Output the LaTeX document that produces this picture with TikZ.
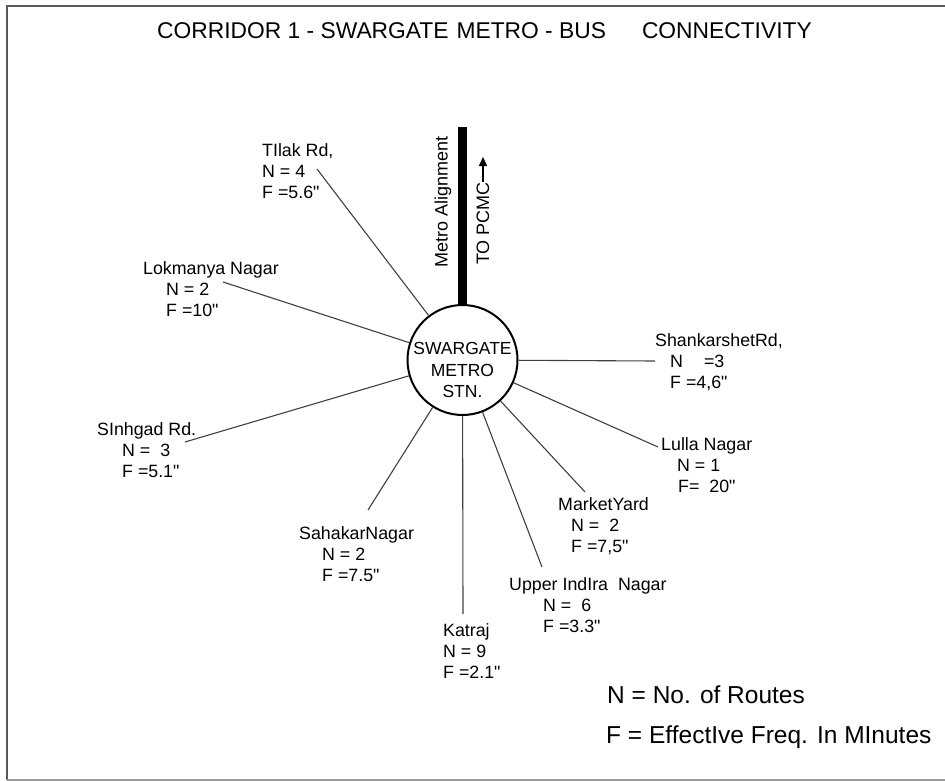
\documentclass[tikz,border=0pt]{standalone}
\usepackage{fontspec}
\setmainfont{Liberation Sans}[Ligatures=TeXOff]
\usetikzlibrary{arrows.meta}
\tikzset{
  spoke/.style={draw=black!75, line width=1.1pt},
  stoplabel/.style={anchor=north west, inner sep=0pt, align=left,
    font=\fontsize{17.8}{21}\selectfont},
}
\begin{document}
\begin{tikzpicture}[x=1pt,y=-1pt]
  \useasboundingbox (0,0) rectangle (945,781);
  % Frame (open on the right)
  \draw[black!65, line width=2pt] (945,6) -- (7,6) -- (7,780);
  \draw[black!40, line width=2pt] (7,780) -- (945,780);
  % Title
  \node[anchor=base, inner sep=0pt, font=\fontsize{22.8}{27}\selectfont] (title) at (484.5,39)
    {CORRIDOR 1 - SWARGATE\hspace{8pt}METRO - BUS\hspace{36pt}CONNECTIVITY};
  % Station
  \node[circle, draw, line width=2pt, minimum size=110pt, inner sep=0pt] (stn) at (462.5,360) {};
  \node[align=center, inner sep=0pt, font=\fontsize{17.5}{21.5}\selectfont] (stnname) at (462.5,370)
    {SWARGATE\\METRO\\STN.};
  % Metro alignment
  \coordinate (bartop) at (462.5,127);
  \draw[line width=9pt] (bartop) -- (stn.north);
  \node[rotate=90, inner sep=0pt, font=\fontsize{18}{21}\selectfont] (metroalign) at (443,202) {Metro Alignment};
  \node[rotate=90, anchor=west, inner sep=0pt, font=\fontsize{18}{21}\selectfont] (pcmc) at (483,265) {TO PCMC};
  \coordinate (pcmctip) at (483,157);
  \draw[line width=1.5pt, -{Triangle[length=9pt,width=8pt]}] (pcmc.east) -- (pcmctip);
  % Spoke ends
  \coordinate (tilakend) at (317,169);
  \coordinate (lokend) at (223,282);
  \coordinate (sinhend) at (185,442);
  \coordinate (sahend) at (368,510);
  \coordinate (katend) at (463,614);
  \coordinate (upperend) at (542,567);
  \coordinate (marketend) at (585,492);
  \coordinate (lullaend) at (658,447);
  \coordinate (shankend) at (655,361);
  \foreach \e in {tilakend,lokend,sinhend,sahend,katend,upperend,marketend,lullaend,shankend} {
    \draw[spoke] (stn) -- (\e);
  }
  % Bus stops
  \node[stoplabel] (tilak) at (262,143) {TIlak Rd,\\N = 4\\F =5.6"};
  \node[stoplabel] (lokmanya) at (143,261) {Lokmanya Nagar\\\hspace*{23pt}N = 2\\\hspace*{23pt}F =10"};
  \node[stoplabel] (sinhgad) at (97,422) {SInhgad Rd.\\\hspace*{25pt}N = ~3\\\hspace*{25pt}F =5.1"};
  \node[stoplabel] (sahakar) at (299,526) {SahakarNagar\\\hspace*{23pt}N = 2\\\hspace*{23pt}F =7.5"};
  \node[stoplabel] (katraj) at (443,623) {Katraj\\N = 9\\F =2.1"};
  \node[stoplabel] (upper) at (509,577) {Upper IndIra ~Nagar\\\hspace*{34pt}N = ~6\\\hspace*{34pt}F =3.3"};
  \node[stoplabel] (market) at (558,497) {MarketYard\\\hspace*{13pt}N = ~2\\\hspace*{13pt}F =7,5"};
  \node[stoplabel] (lulla) at (661,437) {Lulla Nagar\\\hspace*{16pt}N = 1\\\hspace*{17pt}F= ~20"};
  \node[stoplabel] (shank) at (655,333) {ShankarshetRd,\\\hspace*{15pt}N\hspace{21pt}=3\\\hspace*{15pt}F =4,6"};
  % Legend
  \node[anchor=base west, inner sep=0pt, font=\fontsize{24.5}{29}\selectfont] (legendn) at (607,703) {N = No. of Routes};
  \node[anchor=base west, inner sep=0pt, font=\fontsize{24.5}{29}\selectfont] (legendf) at (606,743) {F = EffectIve Freq. In MInutes};
\end{tikzpicture}
\end{document}
